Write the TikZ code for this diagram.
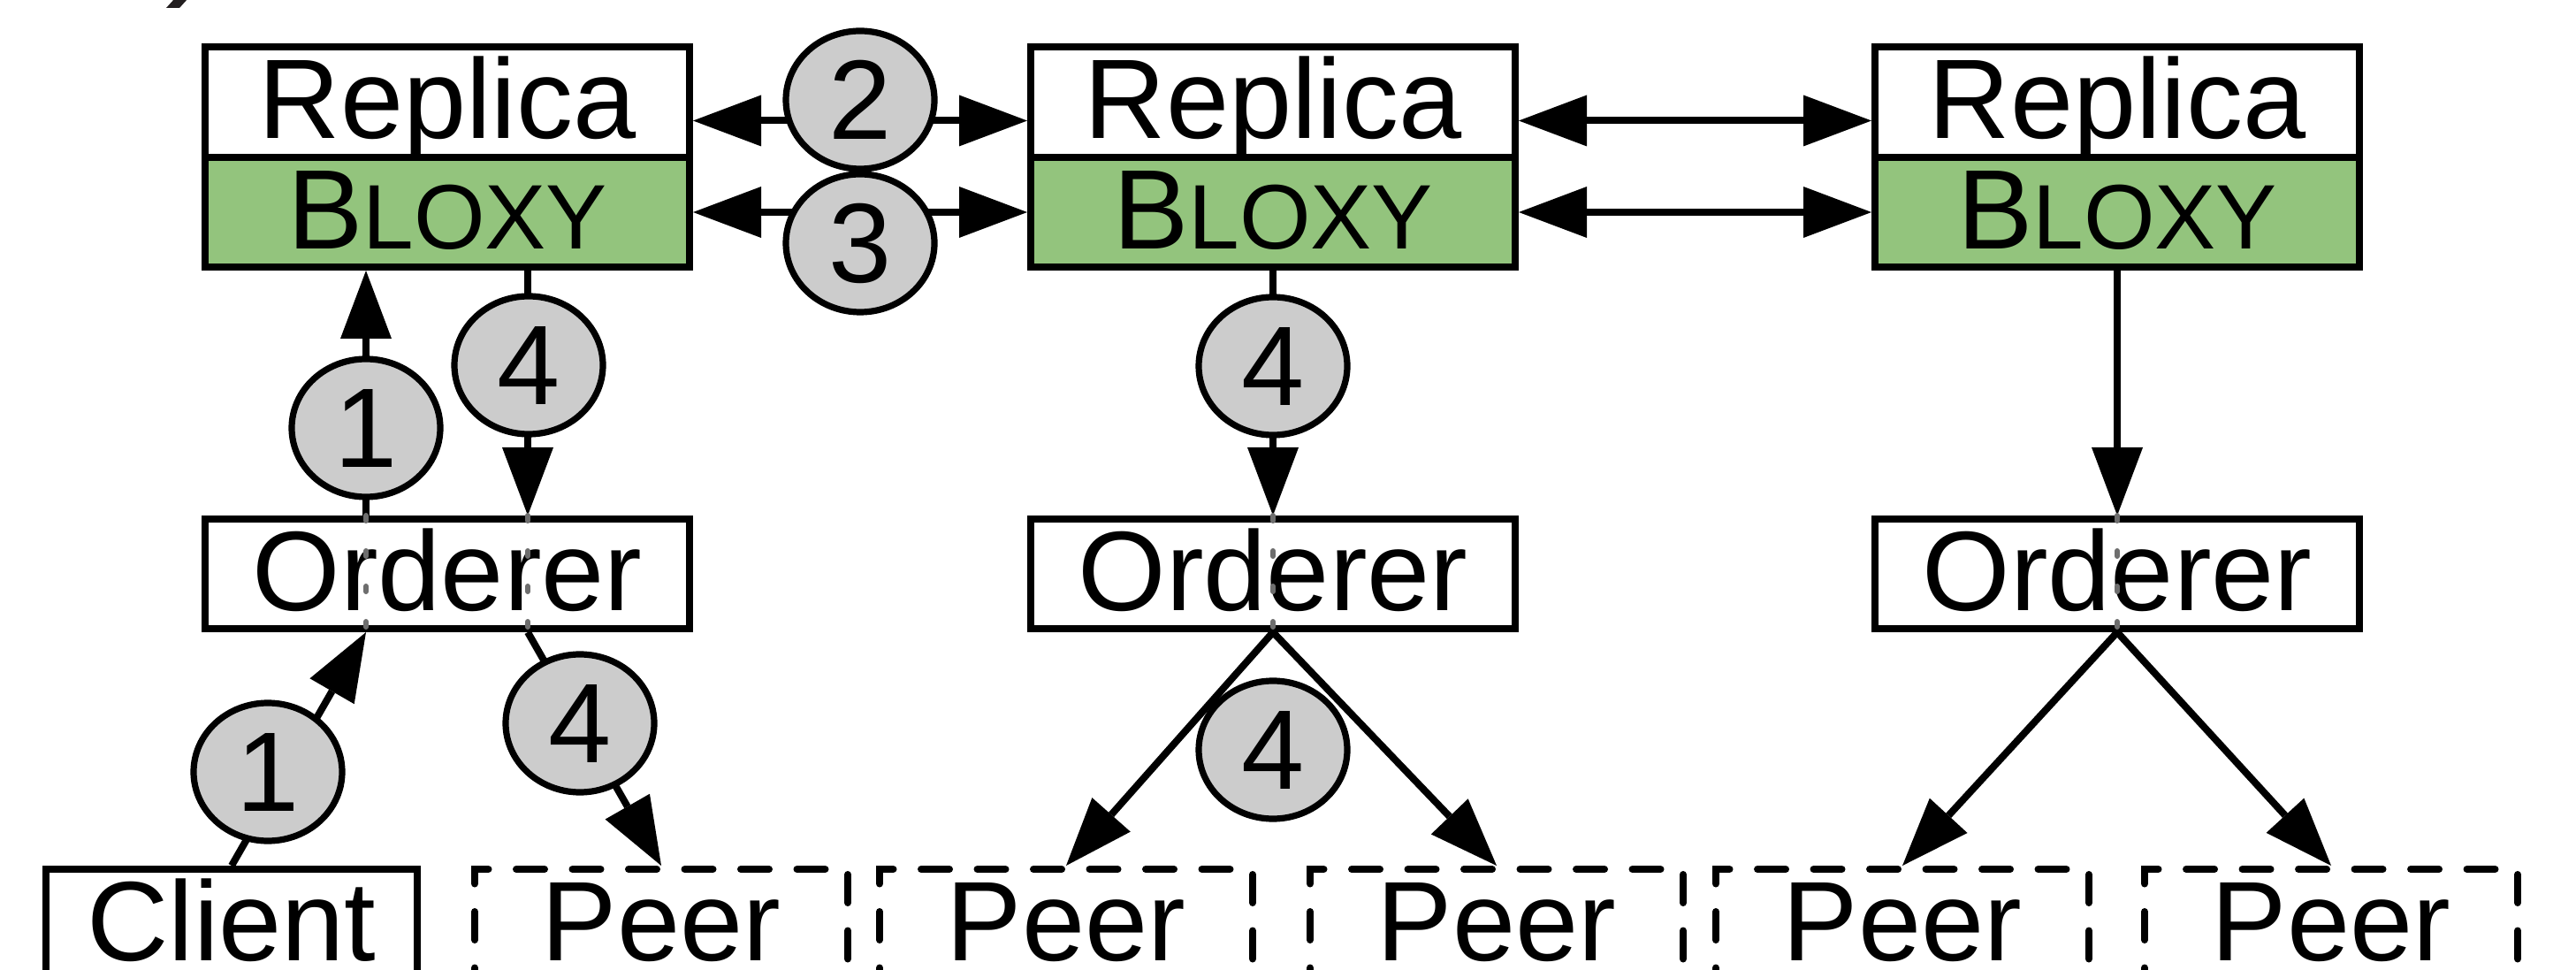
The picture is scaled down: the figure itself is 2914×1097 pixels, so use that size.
\documentclass[tikz,border=0pt]{standalone}
\usepackage{fontspec}
\setmainfont{Liberation Sans}
\usetikzlibrary{arrows.meta,shapes.geometric}

\definecolor{bloxygreen}{HTML}{93C47D}
\definecolor{stepgray}{HTML}{CCCCCC}
\definecolor{markgray}{HTML}{6E6E6E}
\definecolor{inkdark}{HTML}{231F20}

\newcommand\bxfont{\fontsize{36.4}{40}\selectfont}
\newcommand\bxsc{\fontsize{29.5}{32}\selectfont}

\begin{document}
\begin{tikzpicture}[x=0.1mm,y=-0.1mm,
  >={Triangle[length=7.7mm,width=5.8mm,line width=0pt]},
  conn/.style={line width=0.8mm},
  box/.style={draw,line width=0.8mm,minimum width=54.8mm,minimum height=12.4mm,
    inner sep=0pt,text height=8.3mm,text depth=0pt,font=\bxfont},
  bloxy/.style={box,fill=bloxygreen},
  endbox/.style={box,minimum width=42.2mm},
  peer/.style={endbox,dash pattern=on 3.2mm off 3.15mm,line cap=round},
  num/.style={ellipse,draw,fill=stepgray,line width=0.72mm,minimum width=16.8mm,
    minimum height=15.6mm,inner sep=0pt,font=\bxfont},
  graymark/.style={draw=markgray,line width=0.6mm,line cap=round,
    dash pattern=on 0.6mm off 3.4mm}]

\useasboundingbox (0,0) rectangle (2914,1097);
\clip (0,0) rectangle (2914,1097);

% cut-off stroke of the panel mark above the figure
\fill[inkdark] (188,9) -- (203,9) -- (222,-12) -- (207,-12) -- cycle;

% replica / Bloxy stacks
\foreach \i/\cx in {1/506,2/1440,3/2395}{
  \node[box,minimum height=12.5mm] (rep\i) at (\cx,115.5) {Replica};
  \node[bloxy] (blx\i) at (\cx,240) {B{\bxsc LOXY}};
  \node[box] (ord\i) at (\cx,649) {Orderer};
}

% client and peers
\node[endbox,minimum width=42mm] (cli) at (262,1045) {Client};
\node[peer] (p1) at (748,1045) {Peer};
\node[peer] (p2) at (1206,1045) {Peer};
\node[peer] (p3) at (1693,1045) {Peer};
\node[peer] (p4) at (2152,1045) {Peer};
\node[peer] (p5) at (2637,1045) {Peer};

% links between the replicas
\draw[conn,<->] ([yshift=-2.1mm]rep1.east) -- ([yshift=-2.1mm]rep2.west);
\draw[conn,<->] (blx1.east) -- (blx2.west);
\draw[conn,<->] ([yshift=-2.1mm]rep2.east) -- ([yshift=-2.1mm]rep3.west);
\draw[conn,<->] (blx2.east) -- (blx3.west);

% orderer <-> Bloxy
\draw[conn,->] ([xshift=-9.2mm]ord1.north) -- ([xshift=-9.2mm]blx1.south);
\draw[conn,->] ([xshift=9.1mm]blx1.south) -- ([xshift=9.1mm]ord1.north);
\draw[conn,->] (blx2.south) -- (ord2.north);
\draw[conn,->] (blx3.south) -- (ord3.north);

% client -> orderer, orderers -> peers
\draw[conn,->] (cli.north) -- ([xshift=-9.2mm]ord1.south);
\draw[conn,->] ([xshift=9.1mm]ord1.south) -- (p1.north);
\draw[conn,->] (ord2.south) -- (p2.north);
\draw[conn,->] (ord2.south) -- (p3.north);
\draw[conn,->] (ord3.south) -- (p4.north);
\draw[conn,->] (ord3.south) -- (p5.north);

% step numbers
\node[num] (s2) at (973,113) {2};
\node[num] (s3) at (973,275) {3};
\node[num] (s1a) at (414,484) {1};
\node[num] (s4a) at (598,413) {4};
\node[num] (s4b) at (1440,414) {4};
\node[num] (s1b) at (303,873) {1};
\node[num] (s4c) at (656,818) {4};
\node[num] (s4d) at (1440,848) {4};

% lines continuing through the orderer boxes
\foreach \nd/\dx in {ord1/-9.2,ord1/9.1,ord2/0,ord3/0}
  \draw[graymark] ([xshift=\dx mm]\nd.north) -- ([xshift=\dx mm]\nd.south);

\end{tikzpicture}
\end{document}
